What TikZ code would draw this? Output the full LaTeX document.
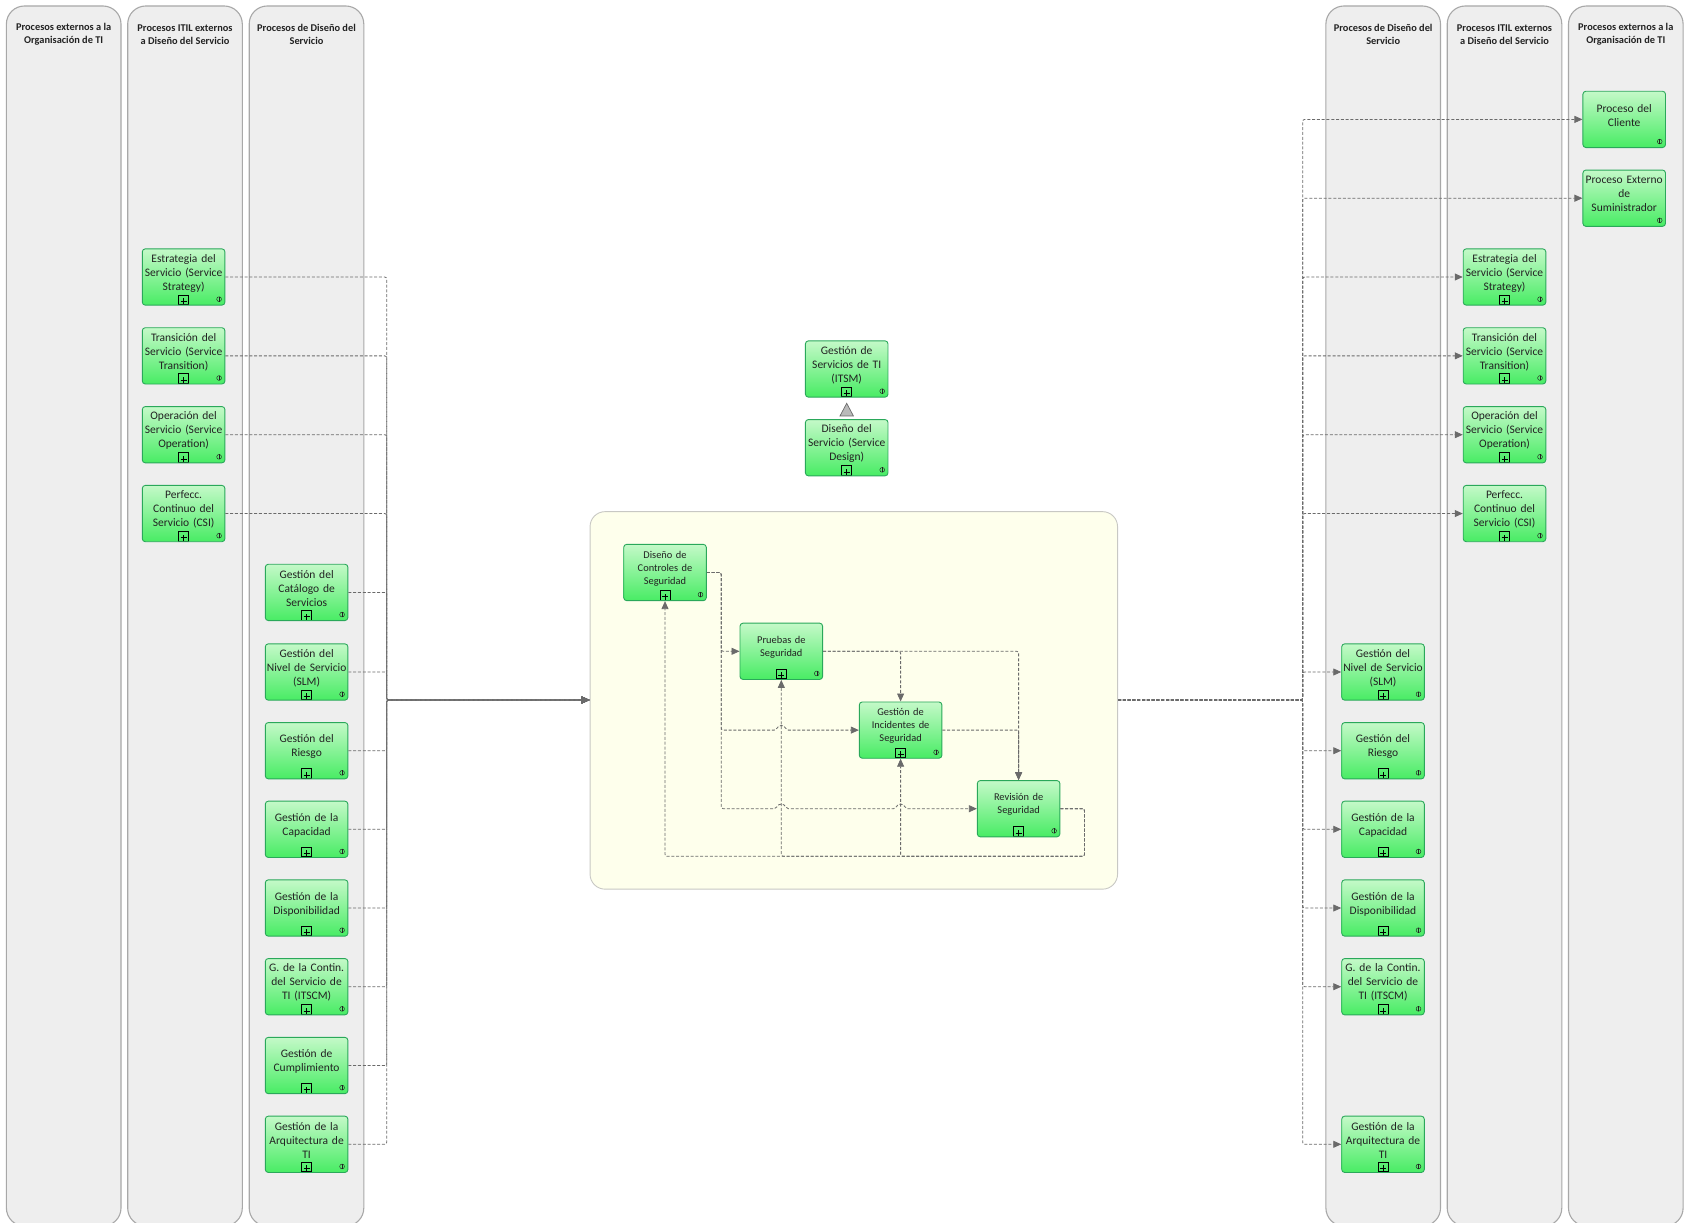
\documentclass[tikz,border=0pt]{standalone}
\usepackage{fontspec}
\setmainfont{Carlito}
\usetikzlibrary{arrows.meta,calc}
\definecolor{laneF}{HTML}{EEEEEE}
\definecolor{laneD}{HTML}{A8A8A8}
\definecolor{contF}{HTML}{FEFFEC}
\definecolor{contD}{HTML}{C8C8C4}
\definecolor{topG}{HTML}{C4F9C8}
\definecolor{botG}{HTML}{48EC64}
\definecolor{edgeG}{HTML}{2AA85A}
\definecolor{flowC}{HTML}{6A6A6A}
\definecolor{txt}{HTML}{222222}
\newcommand{\picinfo}{%
  \draw[sharp corners,txt,line width=.45pt] ([xshift=-5.8pt,yshift=6pt]path picture bounding box.south east) circle (2.4pt);
  \draw[sharp corners,txt,line width=.45pt] ([xshift=-5.8pt,yshift=8.4pt]path picture bounding box.south east) -- ([xshift=-5.8pt,yshift=3.6pt]path picture bounding box.south east);}
\newcommand{\picplus}{%
  \draw[sharp corners,black,line width=.9pt] ([xshift=-5pt,yshift=.6pt]path picture bounding box.south) rectangle ([xshift=5pt,yshift=10.2pt]path picture bounding box.south);
  \draw[sharp corners,black,line width=.6pt] ([xshift=-3pt,yshift=4pt]path picture bounding box.south) -- ([xshift=3pt,yshift=4pt]path picture bounding box.south);
  \draw[sharp corners,black,line width=.6pt] ([yshift=1pt]path picture bounding box.south) -- ([yshift=7pt]path picture bounding box.south);}
\newcommand{\lb}[1]{#1\par\kern8pt}
\tikzset{
  lane/.style={draw=laneD,fill=laneF,line width=1.1pt,rounded corners=18pt,minimum width=114.6pt,minimum height=1220pt,inner sep=0pt},
  lanehead/.style={text=txt,align=center,inner sep=0pt,font=\fontsize{10.35}{13}\selectfont\bfseries},
  cont/.style={draw=contD,fill=contF,line width=.9pt,rounded corners=15pt,minimum width=527.5pt,minimum height=377.5pt,inner sep=0pt},
  procbase/.style={draw=edgeG,line width=.9pt,rounded corners=3pt,top color=topG,bottom color=botG,middle color=topG!50!botG,
    minimum width=82.6pt,minimum height=56.3pt,text width=81pt,inner sep=0pt,align=center,text=txt,font=\fontsize{11.5}{14}\selectfont},
  proc/.style={procbase,path picture={\picinfo}},
  procp/.style={procbase,path picture={\picinfo\picplus}},
  small/.style={font=\fontsize{10.4}{13}\selectfont},
  flow/.style={draw=flowC,line width=.8pt,dash pattern=on 3pt off 1.8pt,rounded corners=2pt,-{Triangle[length=8pt,width=7pt,fill=flowC]}},
  hop/.style={insert path={-- ([xshift=-5pt]#1) .. controls ([xshift=-3pt,yshift=5.5pt]#1) and ([xshift=3pt,yshift=5.5pt]#1) .. ([xshift=5pt]#1)}},
  tri/.style={draw=flowC,fill=black!27,line width=.7pt}
}
\begin{document}
\begin{tikzpicture}[x=1pt,y=-1pt]
\useasboundingbox (0,0) rectangle (1686,1223);
% lanes
\node[lane] (ln1) at (63.7,616) {};
\node[lane] (ln2) at (185,616) {};
\node[lane] (ln3) at (306.5,616) {};
\node[lane] (rn1) at (1383.2,616) {};
\node[lane] (rn2) at (1504.5,616) {};
\node[lane] (rn3) at (1625.8,616) {};
\node[lanehead] (lh1) at (63.7,34.6) {Procesos externos a la\\Organisación de TI};
\node[lanehead] (lh2) at (185,34.6) {Procesos ITIL externos\\a Diseño del Servicio};
\node[lanehead] (lh3) at (306.5,34.6) {Procesos de Diseño del\\Servicio};
\node[lanehead] (rh1) at (1383.2,34.6) {Procesos de Diseño del\\Servicio};
\node[lanehead] (rh2) at (1504.5,34.6) {Procesos ITIL externos\\a Diseño del Servicio};
\node[lanehead] (rh3) at (1625.8,34.6) {Procesos externos a la\\Organisación de TI};
% container
\node[cont] (cnt) at (853.8,700.4) {};
% left column 2
\node[procp] (lE) at (183.6,277) {\lb{Estrategia del\\Servicio (Service\\Strategy)}};
\node[procp] (lT) at (183.6,355.85) {\lb{Transición del\\Servicio (Service\\Transition)}};
\node[procp] (lO) at (183.6,434.7) {\lb{Operación del\\Servicio (Service\\Operation)}};
\node[procp] (lC) at (183.6,513.55) {\lb{Perfecc.\\Continuo del\\Servicio (CSI)}};
% left column 3
\node[procp] (lG) at (306.6,592.4) {\lb{Gestión del\\Catálogo de\\Servicios}};
\node[procp] (lS) at (306.6,672) {\lb{Gestión del\\Nivel de Servicio\\(SLM)}};
\node[procp] (lR) at (306.6,750.7) {\lb{Gestión del\\Riesgo}};
\node[procp] (lP) at (306.6,829.3) {\lb{Gestión de la\\Capacidad}};
\node[procp] (lD) at (306.6,908) {\lb{Gestión de la\\Disponibilidad}};
\node[procp] (lI) at (306.6,986.7) {\lb{G. de la Contin.\\del Servicio de\\TI (ITSCM)}};
\node[procp] (lU) at (306.6,1065.5) {\lb{Gestión de\\Cumplimiento}};
\node[procp] (lA) at (306.6,1144.3) {\lb{Gestión de la\\Arquitectura de\\TI}};
% right column 3
\node[proc] (rK) at (1624.2,119.4) {\lb{Proceso del\\Cliente}};
\node[proc] (rX) at (1624.2,198.2) {\lb{Proceso Externo\\de\\Suministrador}};
% right column 2
\node[procp] (rE) at (1504.5,277) {\lb{Estrategia del\\Servicio (Service\\Strategy)}};
\node[procp] (rT) at (1504.5,355.85) {\lb{Transición del\\Servicio (Service\\Transition)}};
\node[procp] (rO) at (1504.5,434.7) {\lb{Operación del\\Servicio (Service\\Operation)}};
\node[procp] (rC) at (1504.5,513.55) {\lb{Perfecc.\\Continuo del\\Servicio (CSI)}};
% right column 1
\node[procp] (rS) at (1383,672) {\lb{Gestión del\\Nivel de Servicio\\(SLM)}};
\node[procp] (rR) at (1383,750.7) {\lb{Gestión del\\Riesgo}};
\node[procp] (rP) at (1383,829.3) {\lb{Gestión de la\\Capacidad}};
\node[procp] (rD) at (1383,908) {\lb{Gestión de la\\Disponibilidad}};
\node[procp] (rI) at (1383,986.7) {\lb{G. de la Contin.\\del Servicio de\\TI (ITSCM)}};
\node[procp] (rA) at (1383,1144.3) {\lb{Gestión de la\\Arquitectura de\\TI}};
% hierarchy
\node[procp] (itsm) at (846.7,369) {\lb{Gestión de\\Servicios de TI\\(ITSM)}};
\node[procp] (dsv) at (846.7,447.7) {\lb{Diseño del\\Servicio (Service\\Design)}};
\draw[tri] ([yshift=-5.7pt]itsm.south) -- ([xshift=-6.7pt,yshift=-18.3pt]itsm.south) -- ([xshift=6.7pt,yshift=-18.3pt]itsm.south) -- cycle;
% inner process
\node[procp,small] (dc) at (665,572.5) {\lb{Diseño de\\Controles de\\Seguridad}};
\node[procp,small] (ps) at (781.3,651.3) {\lb{Pruebas de\\Seguridad}};
\node[procp,small] (gi) at (900.6,730.1) {\lb{Gestión de\\Incidentes de\\Seguridad}};
\node[procp,small] (rv) at (1018.6,808.7) {\lb{Revisión de\\Seguridad}};
% buses
\coordinate (busL) at (386.7,700);
\coordinate (busR) at (1302.7,700);
\coordinate (vD) at (721.2,651);
\coordinate (rvR) at (1084.5,856.3);
\foreach \n in {lE,lT,lO,lC,lG,lS,lR,lP,lD,lI,lU,lA}
  \draw[flow] (\n.east) -- (\n.east -| busL) -- (busL) -- (busL -| cnt.west);
\foreach \n in {rK,rX,rE,rT,rO,rC,rS,rR,rP,rD,rI,rA}
  \draw[flow] (busR -| cnt.east) -- (busR) -- (busR |- \n.west) -- (\n.west);
% inner connectors
\coordinate (hA) at (ps.south |- gi.west);
\coordinate (hB) at (ps.south |- rv.west);
\coordinate (hC) at (gi.south |- rv.west);
\draw[flow] (dc.east) -- (dc.east -| vD) -- (vD |- ps.west) -- (ps.west);
\draw[flow] (dc.east) -- (dc.east -| vD) -- (vD |- gi.west) [hop=hA] -- (gi.west);
\draw[flow] (dc.east) -- (dc.east -| vD) -- (vD |- rv.west) [hop=hB] [hop=hC] -- (rv.west);
\draw[flow] (ps.east) -- (ps.east -| gi.north) -- (gi.north);
\draw[flow] (ps.east) -- (ps.east -| rv.north) -- (rv.north);
\draw[flow] (gi.east) -- (gi.east -| rv.north) -- (rv.north);
\draw[flow] (rv.east) -- (rv.east -| rvR) -- (rvR) -- (rvR -| dc.south) -- (dc.south);
\draw[flow] (rv.east) -- (rv.east -| rvR) -- (rvR) -- (rvR -| ps.south) -- (ps.south);
\draw[flow] (rv.east) -- (rv.east -| rvR) -- (rvR) -- (rvR -| gi.south) -- (gi.south);
\end{tikzpicture}
\end{document}
